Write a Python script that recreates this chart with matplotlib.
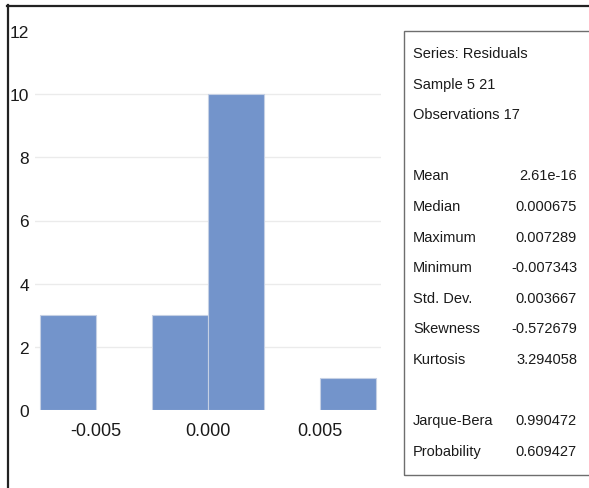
import matplotlib
matplotlib.use("Agg")
import matplotlib.pyplot as plt
from matplotlib.lines import Line2D
from matplotlib.patches import Rectangle
from matplotlib import font_manager

# ---- data ----
bin_lefts = [-0.0075, -0.0025, 0.0, 0.005]
bin_counts = [3, 3, 10, 1]
bin_width = 0.0025
x_ticks = [-0.005, 0.0, 0.005]
x_tick_labels = ["-0.005", "0.000", "0.005"]
y_ticks = [0, 2, 4, 6, 8, 10, 12]

stat_header = ["Series: Residuals", "Sample 5 21", "Observations 17"]
stat_names = ["Mean", "Median", "Maximum", "Minimum", "Std. Dev.", "Skewness", "Kurtosis"]
stat_values = ["2.61e-16", "0.000675", "0.007289", "-0.007343", "0.003667", "-0.572679", "3.294058"]
test_names = ["Jarque-Bera", "Probability"]
test_values = ["0.990472", "0.609427"]

# ---- fonts ----
installed = {f.name for f in font_manager.fontManager.ttflist}
fam = [f for f in ["Liberation Sans Narrow", "Liberation Sans", "DejaVu Sans"] if f in installed]
plt.rcParams["font.family"] = fam

W, H = 589, 489
fig = plt.figure(figsize=(W / 100, H / 100), dpi=100)

def fx(px):
    return px / W

def fy(py):
    return 1 - py / H

ax_left, ax_right, ax_top, ax_bottom = 35, 381, 32, 411
ax = fig.add_axes([fx(ax_left), fy(ax_bottom), fx(ax_right) - fx(ax_left), fy(ax_top) - fy(ax_bottom)])

ax.bar(bin_lefts, bin_counts, width=bin_width, align="edge",
       color="#7394CB", edgecolor="#C5D0E4", linewidth=0.8, zorder=3)

ax.set_xlim(-0.00772, 0.00772)
ax.set_ylim(0, 12)
ax.set_yticks(y_ticks)
ax.set_xticks(x_ticks)
ax.set_xticklabels(x_tick_labels)
for s in ax.spines.values():
    s.set_visible(False)
ax.tick_params(axis="both", length=0, colors="#1a1a1a")
ax.tick_params(axis="y", pad=4.5, labelsize=12.5)
ax.tick_params(axis="x", pad=9, labelsize=13)
ax.yaxis.grid(True, color="#EBEBEB", linewidth=1.0, zorder=0)
ax.set_axisbelow(True)
gl = ax.get_ygridlines()
gl[0].set_visible(False)
gl[-1].set_visible(False)

# outer frame (top and left lines)
fig.add_artist(Line2D([fx(7), fx(W)], [fy(6.5), fy(6.5)], color="#222222", linewidth=1.6))
fig.add_artist(Line2D([fx(7.5), fx(7.5)], [fy(6), fy(H)], color="#222222", linewidth=1.6))

# stats box
fig.add_artist(Rectangle((fx(404), fy(476)), fx(W + 10) - fx(404), fy(32) - fy(476),
                         fill=False, edgecolor="#6E6E6E", linewidth=1.0))

row_y0, row_dy = 54, 30.6
tx, vx = 413, 577
fs = 10.5
col = "#1a1a1a"
rows = []
for t in stat_header:
    rows.append((t, None))
rows.append(None)
for n, v in zip(stat_names, stat_values):
    rows.append((n, v))
rows.append(None)
for n, v in zip(test_names, test_values):
    rows.append((n, v))
for i, r in enumerate(rows):
    if r is None:
        continue
    y = fy(row_y0 + row_dy * i)
    fig.text(fx(tx), y, r[0], ha="left", va="center", fontsize=fs, color=col)
    if r[1] is not None:
        fig.text(fx(vx), y, r[1], ha="right", va="center", fontsize=fs, color=col)

fig.savefig("out.png", dpi=100)
